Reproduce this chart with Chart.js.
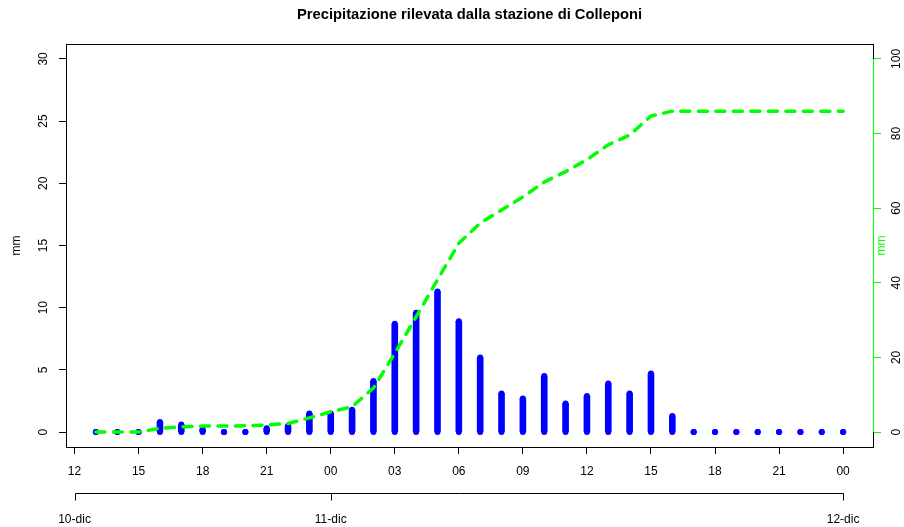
<!DOCTYPE html>
<html>
<head>
<meta charset="utf-8">
<title>Precipitazione Colleponi</title>
<script src="https://cdn.jsdelivr.net/npm/chart.js@4.4.1/dist/chart.umd.min.js"></script>
<style>
  html, body { margin: 0; padding: 0; background: #fff; }
  #wrap { width: 904px; height: 527px; }
</style>
</head>
<body>
<div id="wrap"><canvas id="rainChart" width="904" height="527"></canvas></div>
<script>
// hours counted from 10-dic 00:00
const hours = [13, 14, 15, 16, 17, 18, 19, 20, 21, 22, 23, 24,
               25, 26, 27, 28, 29, 30, 31, 32, 33, 34, 35, 36,
               37, 38, 39, 40, 41, 42, 43, 44, 45, 46, 47, 48];
// hourly rain (mm)
const precip = [0, 0, 0, 0.8, 0.6, 0.2, 0, 0, 0.3, 0.5, 1.5, 1.5,
                1.8, 4.1, 8.7, 9.6, 11.3, 8.9, 6.0, 3.1, 2.7, 4.5, 2.3, 2.9,
                3.9, 3.1, 4.7, 1.3, 0, 0, 0, 0, 0, 0, 0, 0];
// cumulated rain (mm), right axis
const cumulated = [0, 0, 0, 1.0, 1.4, 1.6, 1.6, 1.7, 1.9, 2.3, 3.8, 5.4,
                   6.8, 11.8, 21.1, 30.9, 40.8, 50.6, 56.0, 59.5, 63.0, 67.0, 69.8, 73.0,
                   77.0, 79.6, 84.7, 86.0, 86.0, 86.0, 86.0, 86.0, 86.0, 86.0, 86.0, 86.0];

const hourTicks = [12, 15, 18, 21, 24, 27, 30, 33, 36, 39, 42, 45, 48];
const hourLabels = ['12', '15', '18', '21', '00', '03', '06', '09', '12', '15', '18', '21', '00'];
const dateTicks = [12, 24, 48];
const dateLabels = ['10-dic', '11-dic', '12-dic'];
const rainTicks = [0, 5, 10, 15, 20, 25, 30];
const cumTicks = [0, 20, 40, 60, 80, 100];

const TITLE = 'Precipitazione rilevata dalla stazione di Colleponi';
const FONT = "'Liberation Sans', Arial, sans-serif";
const BLUE = '#0000ff';
const GREEN = '#00ff00';

Chart.defaults.font.family = FONT;
Chart.defaults.font.size = 12;
Chart.defaults.color = '#000';

// box, green right axis line, second (date) axis and right axis title, R style
const rFrame = {
    id: 'rFrame',
    afterDraw(chart) {
        const { ctx, chartArea: a, scales } = chart;
        ctx.save();
        ctx.lineWidth = 1;
        ctx.strokeStyle = '#000';
        ctx.strokeRect(a.left + 0.5, a.top + 0.5, a.right - a.left, a.bottom - a.top);

        const y2 = scales.y2;
        ctx.strokeStyle = GREEN;
        ctx.beginPath();
        ctx.moveTo(a.right + 0.5, y2.getPixelForValue(cumTicks[0]));
        ctx.lineTo(a.right + 0.5, y2.getPixelForValue(cumTicks[cumTicks.length - 1]));
        ctx.stroke();

        const x2 = scales.x2;
        const yLine = x2.top + 13.5;
        ctx.strokeStyle = '#000';
        ctx.beginPath();
        ctx.moveTo(Math.round(x2.getPixelForValue(dateTicks[0])) + 0.5, yLine);
        ctx.lineTo(Math.round(x2.getPixelForValue(dateTicks[dateTicks.length - 1])) + 0.5, yLine);
        dateTicks.forEach(v => {
            const px = Math.round(x2.getPixelForValue(v)) + 0.5;
            ctx.moveTo(px, yLine);
            ctx.lineTo(px, yLine + 7);
        });
        ctx.stroke();

        ctx.fillStyle = GREEN;
        ctx.font = '12px ' + FONT;
        ctx.textAlign = 'center';
        ctx.textBaseline = 'middle';
        ctx.translate(a.right + 9, (a.top + a.bottom) / 2);
        ctx.rotate(-Math.PI / 2);
        ctx.fillText('mm', 0, 0);
        ctx.restore();
    }
};

const barPoints = hours.map((h, i) => ({ x: h, y: precip[i] }));

new Chart(document.getElementById('rainChart'), {
    type: 'bar',
    data: {
        datasets: [{
            type: 'line',
            label: 'Cumulata',
            yAxisID: 'y2',
            order: 0,
            data: hours.map((h, i) => ({ x: h, y: cumulated[i] })),
            borderColor: GREEN,
            borderWidth: 3.5,
            borderDash: [9, 8.5],
            borderCapStyle: 'round',
            borderJoinStyle: 'round',
            pointRadius: 0,
            fill: false,
            tension: 0
        }, {
            type: 'scatter',
            label: 'top caps',
            order: 1,
            data: barPoints,
            pointRadius: 3,
            pointBorderWidth: 0,
            pointBackgroundColor: BLUE
        }, {
            type: 'scatter',
            label: 'bottom caps',
            order: 2,
            data: hours.map(h => ({ x: h, y: 0 })),
            pointRadius: 3,
            pointBorderWidth: 0,
            pointBackgroundColor: BLUE
        }, {
            type: 'bar',
            label: 'Precipitazione',
            order: 3,
            data: barPoints,
            barThickness: 6,
            borderWidth: 0,
            backgroundColor: BLUE
        }]
    },
    options: {
        responsive: false,
        animation: false,
        events: [],
        layout: { padding: 0 },
        plugins: {
            legend: { display: false },
            tooltip: { enabled: false },
            title: {
                display: true,
                text: TITLE,
                fullSize: false,
                color: '#000',
                font: { family: FONT, size: 14.75, weight: 'bold' },
                padding: { top: 6.3, bottom: 20 }
            }
        },
        scales: {
            x: {
                type: 'linear',
                position: 'bottom',
                weight: 0,
                min: 11.6,
                max: 49.4,
                offset: false,
                afterBuildTicks: s => { s.ticks = hourTicks.map(v => ({ value: v })); },
                afterFit: s => { s.height = 33; },
                grid: { drawOnChartArea: false, drawTicks: true, tickLength: 7, tickColor: '#000', offset: false },
                border: { display: false },
                ticks: {
                    autoSkip: false,
                    maxRotation: 0,
                    padding: 10.8,
                    callback: v => hourLabels[hourTicks.indexOf(v)]
                }
            },
            x2: {
                type: 'linear',
                position: 'bottom',
                weight: 1,
                min: 11.6,
                max: 49.4,
                offset: false,
                afterBuildTicks: s => { s.ticks = dateTicks.map(v => ({ value: v })); },
                afterFit: s => { s.height = 47; },
                grid: { display: false, drawTicks: false },
                border: { display: false },
                ticks: {
                    autoSkip: false,
                    maxRotation: 0,
                    padding: 32.5,
                    callback: v => dateLabels[dateTicks.indexOf(v)]
                }
            },
            y: {
                type: 'linear',
                position: 'left',
                min: -1.2,
                max: 31.2,
                afterBuildTicks: s => { s.ticks = rainTicks.map(v => ({ value: v })); },
                afterFit: s => { s.width = 66; },
                grid: { drawOnChartArea: false, drawTicks: true, tickLength: 7, tickColor: '#000' },
                border: { display: false },
                title: { display: true, text: 'mm', color: '#000', font: { size: 12 }, padding: { top: 9.8, bottom: 0 } },
                ticks: {
                    minRotation: 90,
                    maxRotation: 90,
                    crossAlign: 'center',
                    padding: 8.3
                }
            },
            y2: {
                type: 'linear',
                position: 'right',
                min: -4,
                max: 104,
                afterBuildTicks: s => { s.ticks = cumTicks.map(v => ({ value: v })); },
                afterFit: s => { s.width = 31; },
                grid: { drawOnChartArea: false, drawTicks: true, tickLength: 8, tickColor: GREEN },
                border: { display: false },
                ticks: {
                    minRotation: 90,
                    maxRotation: 90,
                    crossAlign: 'center',
                    padding: 6
                }
            }
        }
    },
    plugins: [rFrame]
});
</script>
</body>
</html>
